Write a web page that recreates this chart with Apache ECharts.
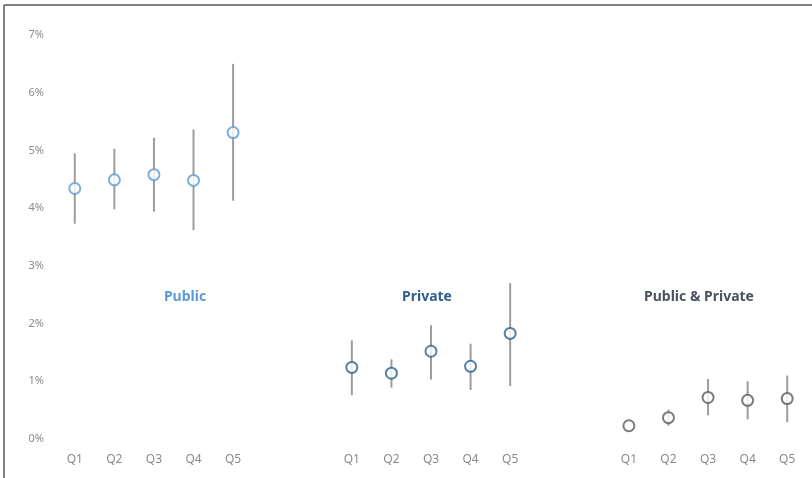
<!DOCTYPE html>
<html>
<head>
<meta charset="utf-8">
<script src="https://cdn.jsdelivr.net/npm/echarts@6/dist/echarts.min.js"></script>
<style>
  html, body { margin: 0; padding: 0; background: #fff; }
  #chart { width: 812px; height: 478px; }
</style>
</head>
<body>
<div id="chart"></div>
<script>
// x axis: three groups of quintiles, two blank slots between groups
const categories = ['Q1', 'Q2', 'Q3', 'Q4', 'Q5', '', '', 'Q1', 'Q2', 'Q3', 'Q4', 'Q5', '', '', 'Q1', 'Q2', 'Q3', 'Q4', 'Q5']
const yTicks = [0, 1, 2, 3, 4, 5, 6, 7]

// values in percent
const publicMean = [4.34, 4.49, 4.58, 4.48, 5.31]
const publicLow = [3.73, 3.98, 3.94, 3.62, 4.13]
const publicHigh = [4.95, 5.03, 5.22, 5.36, 6.50]

const privateMean = [1.24, 1.14, 1.52, 1.26, 1.83]
const privateLow = [0.76, 0.89, 1.03, 0.85, 0.92]
const privateHigh = [1.71, 1.38, 1.97, 1.65, 2.70]

const bothMean = [0.23, 0.37, 0.72, 0.67, 0.70]
const bothLow = [0.23, 0.23, 0.41, 0.34, 0.29]
const bothHigh = [0.23, 0.51, 1.04, 1.00, 1.10]

const groups = [
  { name: 'Public', offset: 0, mean: publicMean, low: publicLow, high: publicHigh, color: '#5b9bd5' },
  { name: 'Private', offset: 7, mean: privateMean, low: privateLow, high: privateHigh, color: '#2f5f8e' },
  { name: 'Public & Private', offset: 14, mean: bothMean, low: bothLow, high: bothHigh, color: '#5a5a5a' }
]

const chart = echarts.init(document.getElementById('chart'))

const series = []
groups.forEach(function(g) {
  series.push({
    name: g.name + ' range',
    type: 'custom',
    z: 1,
    renderItem: function(params, api) {
      const top = api.coord([api.value(0), api.value(2)])
      const bottom = api.coord([api.value(0), api.value(1)])
      return {
        type: 'line',
        shape: { x1: top[0], y1: top[1], x2: bottom[0], y2: bottom[1] },
        style: { stroke: '#9c9c9c', lineWidth: 2 }
      }
    },
    encode: { x: 0, y: [1, 2] },
    data: g.low.map(function(v, i) { return [g.offset + i, v, g.high[i]] })
  })
  series.push({
    name: g.name,
    type: 'scatter',
    z: 3,
    symbol: 'circle',
    symbolSize: 11,
    itemStyle: { color: '#fff', borderColor: g.color, borderWidth: 2 },
    data: g.mean.map(function(v, i) { return [g.offset + i, v] })
  })
})

chart.setOption({
  backgroundColor: '#fff',
  animation: false,
  textStyle: { fontFamily: 'Noto Sans' },
  grid: { left: 55, right: 5, top: 35, bottom: 39 },
  xAxis: {
    type: 'category',
    data: categories,
    axisLine: { show: false },
    axisTick: { show: false },
    axisLabel: { color: '#8a8a8a', fontSize: 12, margin: 15, interval: 0 }
  },
  yAxis: {
    type: 'value',
    min: yTicks[0],
    max: yTicks[yTicks.length - 1],
    interval: 1,
    splitLine: { show: false },
    axisLine: { show: false },
    axisTick: { show: false },
    axisLabel: { color: '#8a8a8a', fontSize: 11, margin: 11, formatter: '{value}%' }
  },
  graphic: [
    // frame
    { type: 'line', shape: { x1: 4, y1: 5, x2: 812, y2: 5 }, style: { stroke: '#808080', lineWidth: 2 } },
    { type: 'line', shape: { x1: 4, y1: 5, x2: 4, y2: 478 }, style: { stroke: '#808080', lineWidth: 2 } },
    // group titles
    { type: 'text', x: 185, y: 297, style: { text: 'Public', fill: '#5b9bd5', font: 'bold 14px "Noto Sans"', align: 'center', verticalAlign: 'middle' } },
    { type: 'text', x: 427, y: 297, style: { text: 'Private', fill: '#2f5f8e', font: 'bold 14px "Noto Sans"', align: 'center', verticalAlign: 'middle' } },
    { type: 'text', x: 699, y: 297, style: { text: 'Public & Private', fill: '#4a5261', font: 'bold 14px "Noto Sans"', align: 'center', verticalAlign: 'middle' } }
  ],
  series: series
})
</script>
</body>
</html>
